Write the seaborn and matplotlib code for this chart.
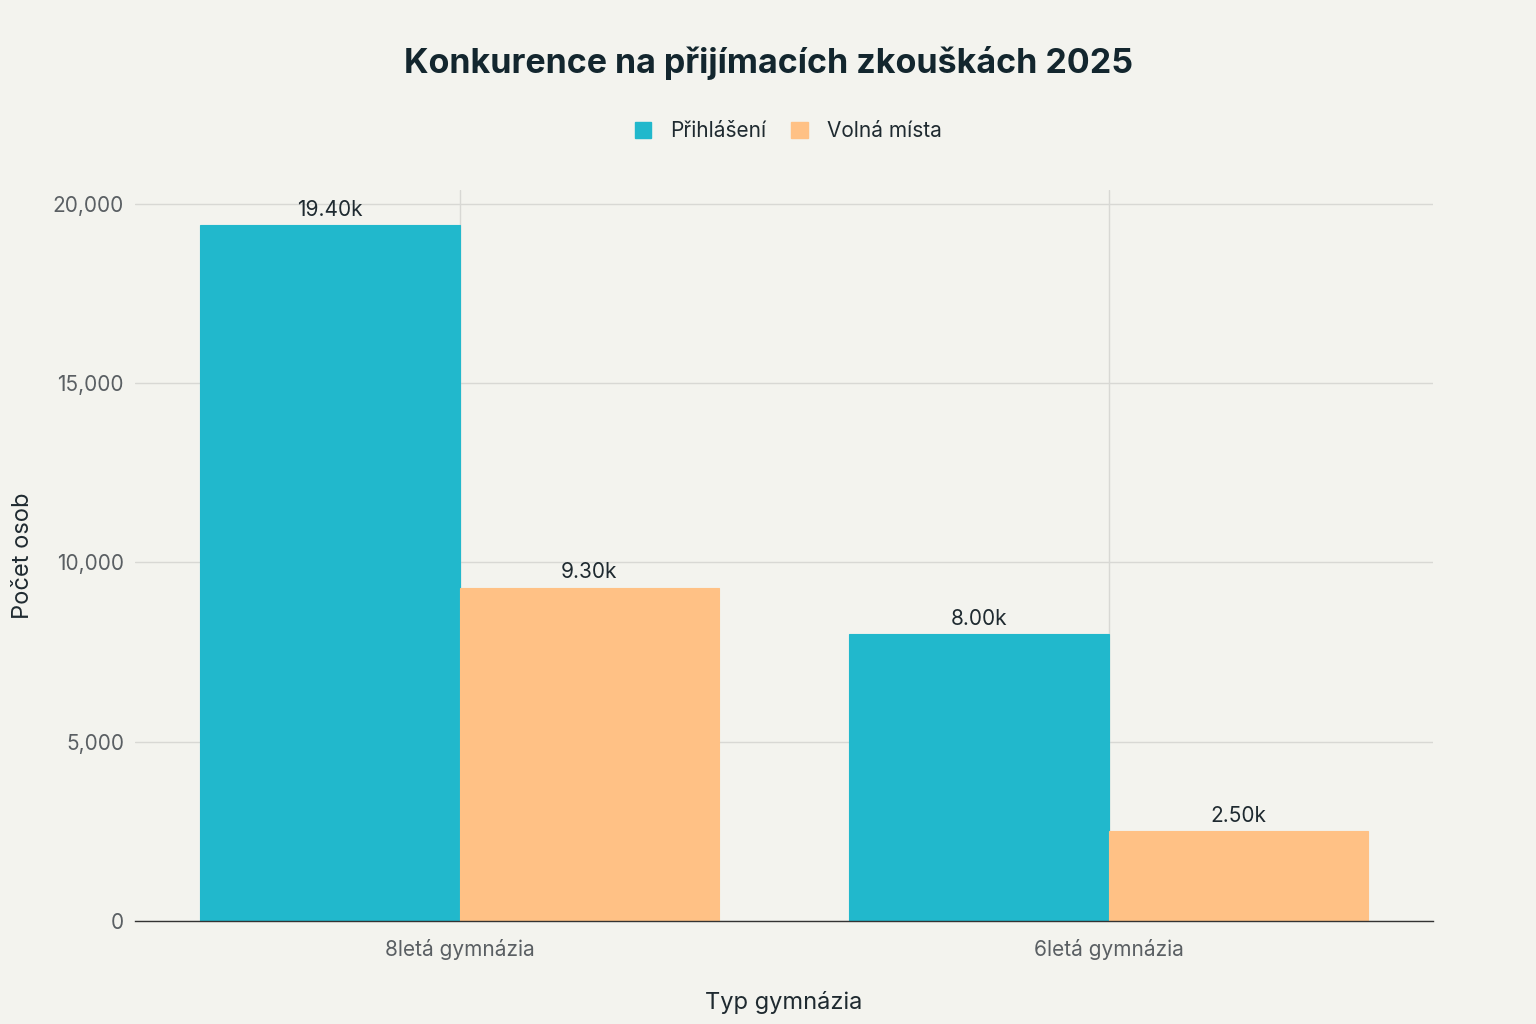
import pandas as pd
import numpy as np
import matplotlib.pyplot as plt
import seaborn as sns

# data
categories = ['8letá gymnázia', '6letá gymnázia']
series = ['Přihlášení', 'Volná místa']
prihlaseni = [19400, 8000]
volna_mista = [9300, 2500]

df = pd.DataFrame({
    'typ': categories * 2,
    'serie': [series[0]] * 2 + [series[1]] * 2,
    'pocet': prihlaseni + volna_mista,
})

bg = '#F3F3EE'
colors = ['#21B8CC', '#FFC185']

sns.set_theme(style='whitegrid')
plt.rcParams['font.family'] = ['Inter', 'DejaVu Sans']

fig = plt.figure(figsize=(15.36, 10.24), dpi=100, facecolor=bg)
ax = fig.add_axes([0.0879, 0.1006, 0.8451, 0.7139])
ax.set_facecolor(bg)

sns.barplot(data=df, x='typ', y='pocet', hue='serie', palette=colors,
            order=categories, hue_order=series, width=0.8, ax=ax,
            saturation=1, legend=True)

for cont in ax.containers:
    for b in cont:
        b.set_edgecolor(b.get_facecolor())
        b.set_linewidth(0.8)
    ax.bar_label(cont, labels=[f'{v/1000:.2f}k' for v in cont.datavalues],
                 padding=4, fontsize=15, color='#1f2a30')

ax.set_xlim(-0.5, 1.5)
ax.set_ylim(0, 20390)
ax.set_yticks([0, 5000, 10000, 15000, 20000])
ax.set_yticklabels(['0', '5,000', '10,000', '15,000', '20,000'])
ax.tick_params(axis='y', length=0, labelsize=15, colors='#5a5f63', pad=8)
ax.tick_params(axis='x', length=0, labelsize=15, colors='#5a5f63', pad=13)
ax.grid(True, color='#d8d8d4', linewidth=1)
ax.set_axisbelow(True)
for s in ['top', 'right', 'left']:
    ax.spines[s].set_visible(False)
ax.spines['bottom'].set_color('#333333')
ax.spines['bottom'].set_linewidth(1)

ax.set_xlabel('Typ gymnázia', fontsize=17, color='#1f2a30', labelpad=22)
ax.set_ylabel('Počet osob', fontsize=17, color='#1f2a30')
ax.yaxis.set_label_coords(-0.078, 0.5)

ax.legend_.remove()
handles = [plt.Rectangle((0, 0), 1, 1, color=c) for c in colors]
fig.legend(handles, series, loc='center', bbox_to_anchor=(0.513, 0.872),
           ncol=2, frameon=False, fontsize=15, handlelength=0.8,
           handleheight=0.8, columnspacing=1.2, handletextpad=0.9,
           labelcolor='#1f2a30')

fig.text(0.5, 0.938, 'Konkurence na přijímacích zkouškách 2025',
         ha='center', va='center', fontsize=24.5, fontweight='bold',
         color='#13262e')

fig.savefig('out.png', dpi=100, facecolor=bg)
